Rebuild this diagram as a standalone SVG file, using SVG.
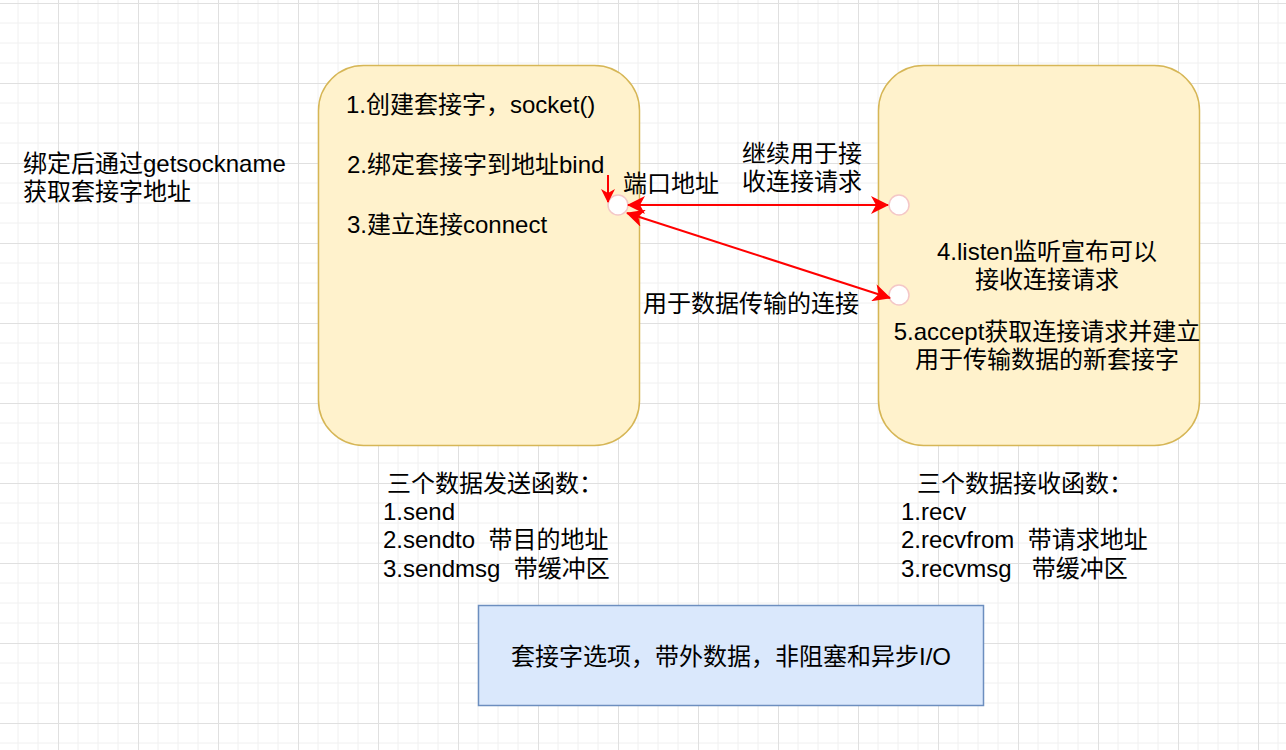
<svg xmlns="http://www.w3.org/2000/svg" width="1286" height="750" viewBox="0 0 1286 750">
  <defs>
    <pattern id="grid" patternUnits="userSpaceOnUse" x="-22" y="3" width="80" height="80">
      <path d="M20,0V80M40,0V80M60,0V80M0,20H80M0,40H80M0,60H80" stroke="#f0f0f0" stroke-width="1" fill="none"/>
      <path d="M0.5,0V80M0,0.5H80" stroke="#e0e0e0" stroke-width="1" fill="none"/>
    </pattern>
    <marker id="arr" markerUnits="userSpaceOnUse" markerWidth="18" markerHeight="18" refX="17" refY="9" orient="auto-start-reverse" viewBox="0 0 18 18">
      <path d="M0,0 L18,9 L0,18 L5,9 z" fill="#ff0000"/>
    </marker>
    <marker id="arrS" markerUnits="userSpaceOnUse" markerWidth="14" markerHeight="14" refX="13" refY="7" orient="auto" viewBox="0 0 14 14">
      <path d="M0,0 L14,7 L0,14 L4,7 z" fill="#ff0000"/>
    </marker>
  </defs>
  <style>
    text { font-family: "Liberation Sans", "Noto Sans CJK SC", sans-serif; font-size: 24px; fill: #000000; }
    .mid { text-anchor: middle; }
    .yellow { fill: #fff2cc; stroke: #d6b656; stroke-width: 1.5; }
    .blue { fill: #dae8fc; stroke: #6c8ebf; stroke-width: 1.5; }
    .port { fill: #ffffff; stroke: #f4c7c7; stroke-width: 1.5; }
    .edge { stroke: #ff0000; stroke-width: 2; fill: none; }
  </style>
  <rect width="1286" height="750" fill="#ffffff"/>
  <rect width="1286" height="750" fill="url(#grid)"/>

  <g id="note-getsockname">
    <text x="23" y="172">绑定后通过getsockname</text>
    <text x="23" y="200">获取套接字地址</text>
  </g>

  <g id="client">
    <rect class="yellow" x="318.5" y="65.5" width="321" height="380" rx="45" ry="45"/>
    <text x="346" y="113">1.创建套接字，socket()</text>
    <text x="347" y="173">2.绑定套接字到地址bind</text>
    <text x="347" y="233">3.建立连接connect</text>
  </g>

  <g id="server">
    <rect class="yellow" x="878.5" y="65.5" width="321" height="380" rx="45" ry="45"/>
    <text class="mid" x="1047" y="260">4.listen监听宣布可以</text>
    <text class="mid" x="1047" y="288">接收连接请求</text>
    <text class="mid" x="1047" y="340">5.accept获取连接请求并建立</text>
    <text class="mid" x="1047" y="368">用于传输数据的新套接字</text>
  </g>

  <g id="client-port">
    <circle class="port" cx="618" cy="205" r="10"/>
  </g>
  <g id="server-listen-port">
    <circle class="port" cx="899" cy="205" r="10"/>
  </g>
  <g id="server-accept-port">
    <circle class="port" cx="899" cy="295" r="10"/>
  </g>

  <g id="connectors">
    <line class="edge" x1="608" y1="175" x2="608" y2="202" stroke-width="1.5" marker-end="url(#arrS)"/>
    <line class="edge" x1="628" y1="205" x2="888" y2="205" marker-start="url(#arr)" marker-end="url(#arr)"/>
    <line class="edge" x1="627" y1="213" x2="890" y2="298" marker-start="url(#arr)" marker-end="url(#arr)"/>
    <text x="623" y="192">端口地址</text>
    <text class="mid" x="802" y="162">继续用于接</text>
    <text class="mid" x="802" y="190">收连接请求</text>
    <text x="643" y="312">用于数据传输的连接</text>
  </g>

  <g id="send-functions">
    <text x="387" y="492">三个数据发送函数：</text>
    <text x="383" y="520">1.send</text>
    <text x="383" y="548" xml:space="preserve">2.sendto  带目的地址</text>
    <text x="383" y="577" xml:space="preserve">3.sendmsg  带缓冲区</text>
  </g>

  <g id="recv-functions">
    <text x="917" y="492">三个数据接收函数：</text>
    <text x="901" y="520">1.recv</text>
    <text x="901" y="548" xml:space="preserve">2.recvfrom  带请求地址</text>
    <text x="901" y="577" xml:space="preserve">3.recvmsg   带缓冲区</text>
  </g>

  <g id="advanced-io">
    <rect class="blue" x="478.5" y="605.5" width="505" height="100"/>
    <text class="mid" x="731" y="665">套接字选项，带外数据，非阻塞和异步I/O</text>
  </g>
</svg>
